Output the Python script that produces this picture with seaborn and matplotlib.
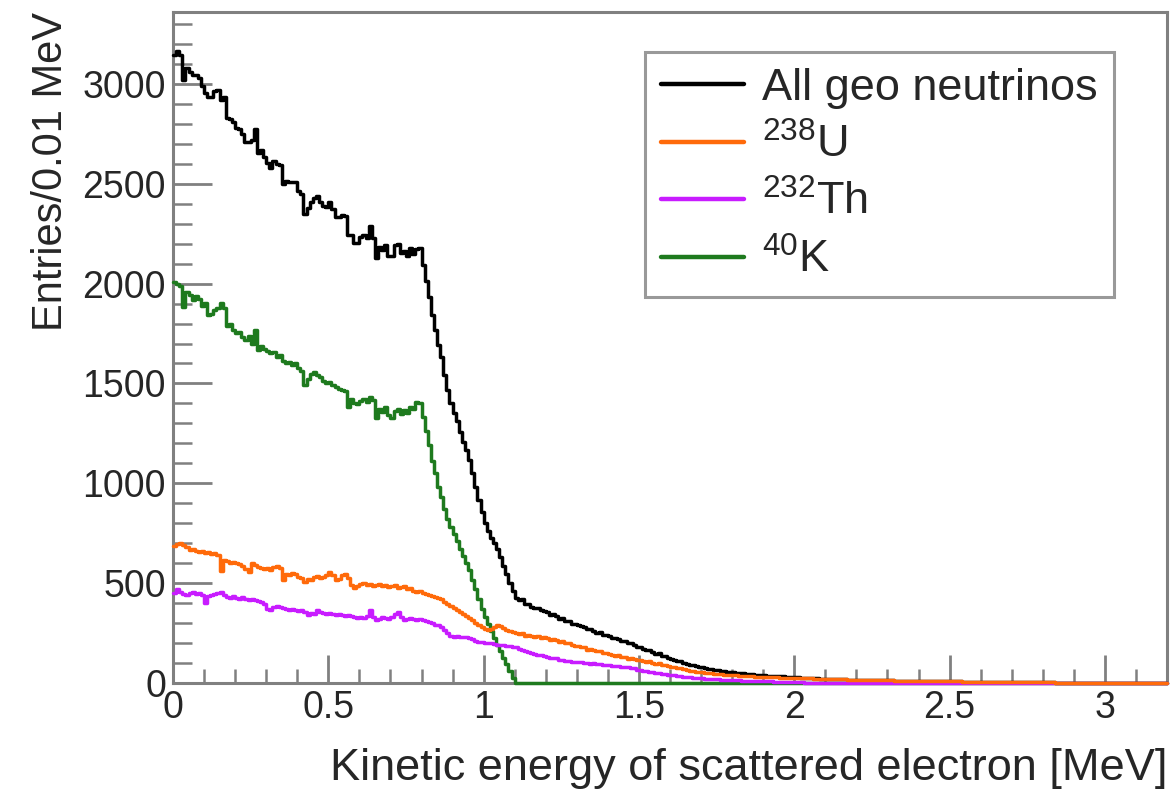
import numpy as np
import pandas as pd
import matplotlib
matplotlib.use("Agg")
import matplotlib.pyplot as plt
from matplotlib.lines import Line2D
from matplotlib.ticker import MultipleLocator, FixedLocator, FixedFormatter
import seaborn as sns

# Recoil-electron spectra, entries per 0.01 MeV bin starting at 0 MeV
bin_width = 0.01
n_bins = 320

k40 = [
    2010, 2000, 1990, 1885, 1960, 1945, 1920, 1940, 1925, 1890,
    1905, 1845, 1850, 1870, 1880, 1905, 1880, 1790, 1800, 1770,
    1755, 1760, 1735, 1720, 1740, 1700, 1770, 1665, 1690, 1670,
    1660, 1650, 1655, 1630, 1640, 1610, 1600, 1605, 1590, 1600,
    1575, 1560, 1490, 1520, 1545, 1555, 1540, 1530, 1510, 1500,
    1505, 1490, 1480, 1470, 1465, 1460, 1380, 1420, 1400, 1395,
    1410, 1420, 1405, 1430, 1415, 1325, 1370, 1355, 1380, 1340,
    1325, 1360, 1370, 1345, 1365, 1350, 1380, 1370, 1405, 1400,
    1330, 1260, 1190, 1110, 1050, 980, 930, 870, 820, 780,
    745, 710, 670, 635, 600, 565, 515, 470, 420, 370,
    330, 295, 260, 225, 190, 158, 125, 95, 60, 25,
] + [0] * 210

u238 = [
    685, 695, 700, 690, 680, 665, 670, 660, 655, 660,
    650, 655, 645, 650, 640, 560, 615, 610, 600, 605,
    600, 595, 585, 570, 555, 600, 590, 580, 575, 570,
    575, 565, 580, 585, 575, 515, 545, 540, 550, 545,
    530, 525, 505, 520, 515, 530, 535, 525, 530, 540,
    555, 540, 515, 520, 540, 545, 525, 490, 475, 485,
    495, 500, 490, 495, 485, 490, 495, 485, 490, 480,
    485, 490, 475, 480, 485, 470, 475, 460, 455, 460,
    450, 445, 440, 435, 430, 425, 420, 405, 395, 385,
    375, 365, 355, 345, 335, 325, 315, 300, 290, 280,
    270, 265, 270, 280, 290, 285, 275, 265, 260, 255,
    250, 244, 252, 236, 241, 233, 230, 236, 224, 229,
    226, 214, 221, 215, 204, 209, 198, 200, 190, 187,
    185, 178, 182, 167, 172, 164, 158, 162, 149, 152,
    143, 141, 136, 138, 128, 131, 122, 124, 119, 113,
    116, 109, 104, 108, 99, 96, 98, 88, 91, 83,
    82, 79, 73, 74, 69, 67, 62, 61, 57, 56,
    55, 52, 50, 48, 46, 45, 44, 42, 41, 40,
    40, 38, 37, 36, 35, 34, 33, 32, 31, 30,
    30, 29, 29, 28, 28, 27, 27, 26, 26, 25,
    25, 25, 24, 24, 23, 23, 22, 22, 21, 21,
    20, 20, 19, 19, 18, 18, 18, 17, 17, 17,
    16, 16, 16, 15, 15, 15, 14, 14, 14, 13,
    13, 13, 12, 12, 12, 12, 11, 11, 11, 11,
    10, 10, 10, 10, 9, 9, 9, 9, 9, 8,
    8, 8, 8, 8, 7, 7, 7, 7, 7, 6,
    6, 6, 6, 6, 6, 5, 5, 5, 5, 5,
    5, 4, 4, 4, 4, 4, 4, 3, 3, 3,
    3, 3, 3, 3, 2, 2, 2, 2, 2, 2,
    2, 2, 1, 1, 1, 1, 1, 1, 1, 1,
    1, 1, 1, 1, 0, 0, 0, 0, 0, 0,
    0, 0, 0, 0, 0, 0, 0, 0, 0, 0,
]

th232 = [
    450, 470, 455, 445, 440, 450, 455, 445, 450, 440,
    400, 435, 440, 445, 450, 455, 440, 430, 425, 435,
    425, 420, 430, 420, 415, 420, 415, 410, 405, 395,
    370, 365, 380, 385, 380, 375, 370, 365, 370, 365,
    360, 365, 355, 340, 350, 345, 365, 355, 350, 345,
    350, 345, 340, 345, 340, 335, 340, 335, 330, 325,
    330, 325, 335, 365, 330, 315, 320, 330, 325, 320,
    330, 345, 355, 330, 315, 320, 325, 320, 315, 320,
    315, 310, 305, 300, 290, 290, 280, 265, 250, 235,
    230, 235, 230, 228, 232, 225, 220, 212, 205, 205,
    200, 202, 198, 195, 192, 190, 188, 186, 183, 180,
    178, 170, 167, 158, 157, 149, 147, 139, 140, 133,
    131, 127, 124, 123, 116, 117, 111, 112, 106, 107,
    104, 105, 100, 101, 97, 98, 94, 95, 91, 90,
    91, 86, 87, 83, 82, 79, 79, 74, 73, 67,
    66, 62, 61, 57, 56, 51, 51, 46, 46, 41,
    40, 38, 36, 34, 32, 30, 28, 27, 26, 25,
    24, 22, 21, 20, 19, 18, 17, 16, 15, 15,
    14, 13, 13, 12, 12, 11, 11, 10, 10, 9,
    9, 8, 8, 7, 7, 6, 6, 5, 5, 4,
    4, 3, 3, 2, 2, 2, 1, 1, 1, 1,
] + [0] * 110

series_labels = ["All geo neutrinos", r"$^{238}$U", r"$^{232}$Th", r"$^{40}$K"]
series_colors = ["#000000", "#ff6a0a", "#c81cff", "#1e7a1e"]

x_ticks = [0, 0.5, 1, 1.5, 2, 2.5, 3]
x_tick_labels = ["0", "0.5", "1", "1.5", "2", "2.5", "3"]
y_ticks = [0, 500, 1000, 1500, 2000, 2500, 3000]
y_tick_labels = ["0", "500", "1000", "1500", "2000", "2500", "3000"]

x_title = "Kinetic energy of scattered electron [MeV]"
y_title = "Entries/0.01 MeV"

# ---------------------------------------------------------------------------
edges = [round(i * bin_width, 2) for i in range(n_bins + 1)]
centers = [e + bin_width / 2 for e in edges[:-1]]

df = pd.DataFrame({
    "energy": centers,
    "U238": np.asarray(u238, dtype=float),
    "Th232": np.asarray(th232, dtype=float),
    "K40": np.asarray(k40, dtype=float),
})
df["All"] = df["U238"] + df["Th232"] + df["K40"]

sns.set_theme(style="white")
plt.rcParams["font.family"] = ["Liberation Sans", "DejaVu Sans"]
plt.rcParams["mathtext.fontset"] = "custom"
plt.rcParams["mathtext.rm"] = "Liberation Sans"
plt.rcParams["mathtext.it"] = "Liberation Sans:italic"
plt.rcParams["mathtext.bf"] = "Liberation Sans:bold"

W, H = 1174, 791
fig = plt.figure(figsize=(W / 100, H / 100), dpi=100)
ax = fig.add_axes([173 / W, 1 - 683 / H, (1167 - 173) / W, (683 - 12) / H])

# histogram outlines sit above the frame, so empty bins trace along the axis
line_w = 2.5
order = [("All", 0), ("K40", 3), ("Th232", 2), ("U238", 1)]
for z, (col, idx) in enumerate(order):
    sns.histplot(data=df, x="energy", weights=col, bins=edges, element="step",
                 fill=False, color=series_colors[idx], linewidth=line_w, ax=ax,
                 zorder=3 + 0.1 * z, clip_on=False)

ax.set_xlim(0, 3.2)
ax.set_ylim(0, 3360)

axis_gray = "#808080"
text_color = "#262626"
for side in ["left", "right", "top", "bottom"]:
    ax.spines[side].set_visible(True)
    ax.spines[side].set_color(axis_gray)
    ax.spines[side].set_linewidth(2.2)

ax.xaxis.set_major_locator(FixedLocator(x_ticks))
ax.xaxis.set_major_formatter(FixedFormatter(x_tick_labels))
ax.xaxis.set_minor_locator(MultipleLocator(0.1))
ax.yaxis.set_major_locator(FixedLocator(y_ticks))
ax.yaxis.set_major_formatter(FixedFormatter(y_tick_labels))
ax.yaxis.set_minor_locator(MultipleLocator(100))

ax.tick_params(axis="x", which="major", direction="in", length=20, width=2.0,
               color=axis_gray, labelsize=27, pad=5, top=False, bottom=True,
               labelcolor=text_color)
ax.tick_params(axis="x", which="minor", direction="in", length=10, width=1.8,
               color=axis_gray, top=False, bottom=True)
ax.tick_params(axis="y", which="major", direction="in", length=28, width=2.0,
               color=axis_gray, labelsize=27, pad=5, left=True, right=False,
               labelcolor=text_color)
ax.tick_params(axis="y", which="minor", direction="in", length=14, width=1.8,
               color=axis_gray, left=True, right=False)

ax.set_xlabel(x_title, loc="right", fontsize=32.5, color=text_color, labelpad=16)
ax.set_ylabel(y_title, loc="top", fontsize=30, color=text_color, labelpad=8)

handles = [Line2D([0], [0], color=c, linewidth=3.2) for c in series_colors]
leg = ax.legend(handles, series_labels, loc="upper left",
                bbox_to_anchor=(645 / W, 1 - 52 / H), bbox_transform=fig.transFigure,
                frameon=True, fancybox=False, edgecolor=axis_gray, fontsize=32.5,
                handlelength=1.85, handletextpad=0.4, labelspacing=0.32,
                borderpad=0.35, borderaxespad=0)
leg.set_zorder(5)
leg.get_frame().set_linewidth(2.2)
for t in leg.get_texts():
    t.set_color(text_color)

fig.savefig("out.png", dpi=100)
